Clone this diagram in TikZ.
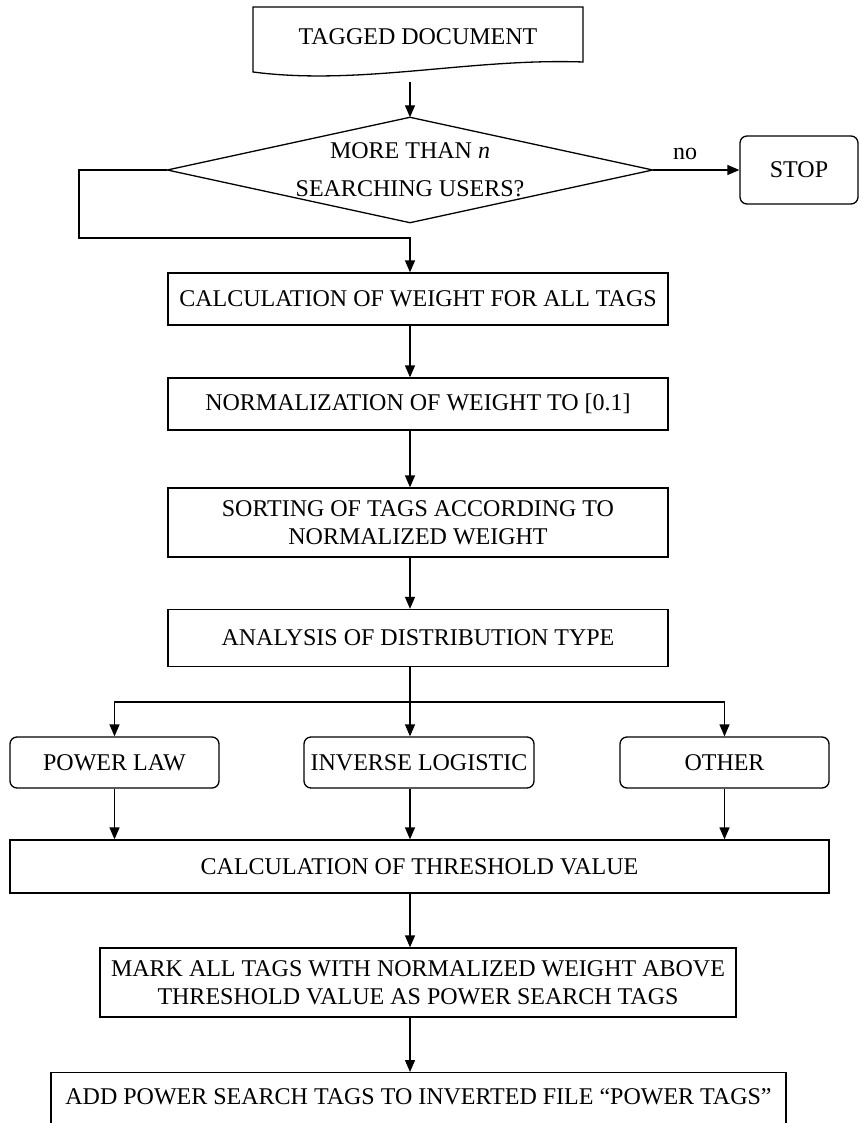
\documentclass[tikz,border=0pt]{standalone}
\usepackage{fontspec}
\setmainfont{Liberation Serif}
\usetikzlibrary{arrows.meta,shapes.geometric}
\begin{document}
\begin{tikzpicture}[x=1pt,y=-1pt,
  every node/.style={font=\fontsize{24}{28}\selectfont, inner sep=0pt, align=center},
  ln/.style={line width=1.3pt},
  box/.style={draw, line width=1.3pt, rectangle},
  rbox/.style={draw, line width=1.3pt, rectangle, rounded corners=7pt},
  arr/.style={line width=1.3pt, -{Triangle[length=12pt,width=10pt]}}]
\useasboundingbox (0,0) rectangle (860,1123);

% tagged document
\node (doc) at (418,37) {TAGGED DOCUMENT};
\draw[ln] (253,7) -- (583,7) -- (583,62) .. controls (470,58) and (360,86) .. (253,72) -- cycle;
\coordinate (docb) at (410,82);

% decision
\node[minimum width=485pt, minimum height=105pt] (dia) at (410,170) {MORE THAN \textit{n}\\[10pt]SEARCHING USERS?};
\draw[ln] (dia.north) -- (dia.east) -- (dia.south) -- (dia.west) -- cycle;

\node[rbox, minimum width=118pt, minimum height=68pt] (stop) at (799,170) {STOP};
\node (nolbl) at (685,154) {no};

% main boxes
\node[box, minimum width=500pt, minimum height=52pt] (b1) at (418,299) {CALCULATION OF WEIGHT FOR ALL TAGS};
\node[box, minimum width=500pt, minimum height=52pt] (b2) at (418,404) {NORMALIZATION OF WEIGHT TO [0.1]};
\node[box, minimum width=500pt, minimum height=69pt] (b3) at (418,522.5) {SORTING OF TAGS ACCORDING TO\\NORMALIZED WEIGHT};
\node[box, minimum width=500pt, minimum height=57pt] (b4) at (418,638) {ANALYSIS OF DISTRIBUTION TYPE};

\node[rbox, minimum width=209pt, minimum height=51pt] (pl) at (114.5,762.5) {POWER LAW};
\node[rbox, minimum width=230pt, minimum height=51pt] (il) at (419,762.5) {INVERSE LOGISTIC};
\node[rbox, minimum width=209pt, minimum height=51pt] (ot) at (724.5,762.5) {OTHER};

\node[box, minimum width=819pt, minimum height=53pt] (thr) at (419.5,866.5) {CALCULATION OF THRESHOLD VALUE};
\node[box, minimum width=636pt, minimum height=69pt] (mark) at (418,982.5) {MARK ALL TAGS WITH NORMALIZED WEIGHT ABOVE\\THRESHOLD VALUE AS POWER SEARCH TAGS};
\node[box, minimum width=735pt, minimum height=100pt, anchor=north] (add) at (418.5,1072) {};
\node (addt) at (418.5,1097) {ADD POWER SEARCH TAGS TO INVERTED FILE “POWER TAGS”};

% helper coordinates
\coordinate (sp) at (410,0);
\coordinate (lp) at (79,238);
\coordinate (br) at (410,702);

% connectors
\draw[arr] (docb) -- (dia.north);
\draw[arr] (dia.east) -- (stop.west);
\draw[arr] (dia.west) -| (lp) -- (sp |- lp) -- (sp |- b1.north);
\draw[arr] (sp |- b1.south) -- (sp |- b2.north);
\draw[arr] (sp |- b2.south) -- (sp |- b3.north);
\draw[arr] (sp |- b3.south) -- (sp |- b4.north);
\draw[ln] (sp |- b4.south) -- (br);
\draw[arr] (br) -| (pl.north);
\draw[arr] (br) -| (ot.north);
\draw[arr] (br) -- (sp |- il.north);
\draw[arr] (pl.south) -- (pl.south |- thr.north);
\draw[arr] (sp |- il.south) -- (sp |- thr.north);
\draw[arr] (ot.south) -- (ot.south |- thr.north);
\draw[arr] (sp |- thr.south) -- (sp |- mark.north);
\draw[arr] (sp |- mark.south) -- (sp |- add.north);
\end{tikzpicture}
\end{document}
